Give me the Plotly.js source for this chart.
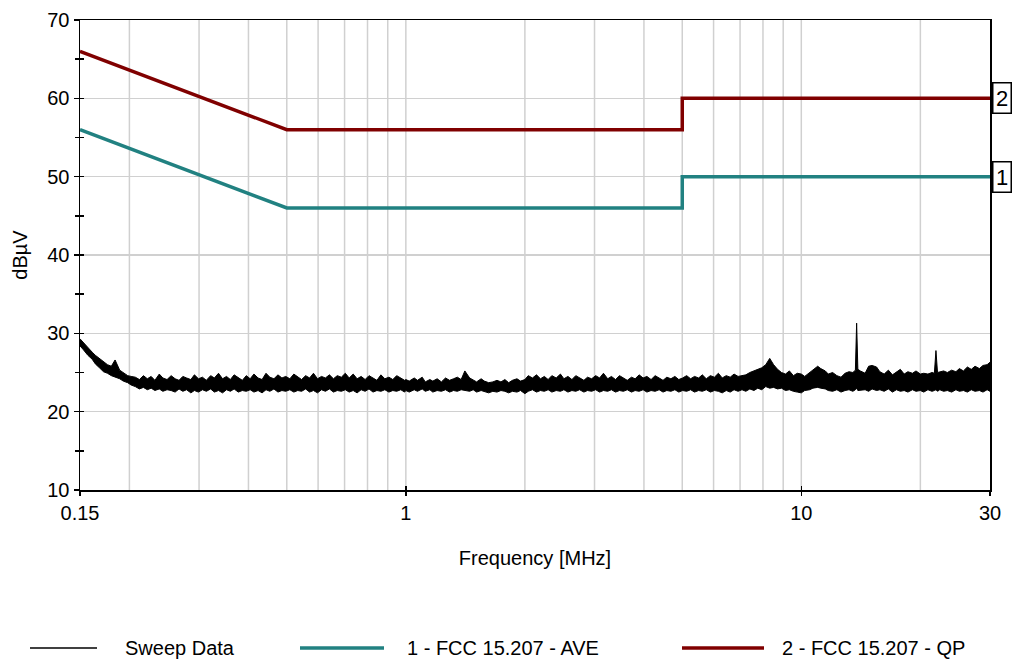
<!DOCTYPE html>
<html>
<head>
<meta charset="utf-8">
<script src="https://cdn.plot.ly/plotly-3.0.1.min.js"></script>
<style>html,body{margin:0;padding:0;background:#fff;}#chart{width:1013px;height:660px;}</style>
</head>
<body>
<div id="chart"></div>
<script>
// ---- Data ----
const limitFreq = [0.15, 0.5, 5, 5, 30];
const limitAVE = [56, 46, 46, 50, 50];
const limitQP = [66, 56, 56, 60, 60];

const sweepFreq = [
0.150,0.153,0.157,0.161,0.164,0.168,0.172,0.176,0.180,0.184,0.189,0.193,0.198,0.202,0.207,0.212,0.217,0.222,0.227,0.232,
0.238,0.243,0.249,0.255,0.261,0.267,0.273,0.279,0.286,0.292,0.299,0.306,0.313,0.321,0.328,0.336,0.344,0.352,0.360,0.368,
0.377,0.386,0.395,0.404,0.413,0.423,0.433,0.443,0.453,0.464,0.475,0.486,0.497,0.509,0.521,0.533,0.545,0.558,0.571,0.584,
0.598,0.612,0.626,0.641,0.656,0.671,0.687,0.703,0.719,0.736,0.753,0.771,0.789,0.807,0.826,0.845,0.865,0.885,0.906,0.927,
0.948,0.971,0.993,
1.00,1.02,1.05,1.07,1.10,1.12,1.15,1.17,1.20,1.23,1.26,1.29,1.32,1.35,1.38,1.41,1.45,1.48,1.51,1.55,
1.58,1.62,1.66,1.70,1.74,1.78,1.82,1.86,1.91,1.95,2.00,2.04,2.09,2.14,2.19,2.24,2.29,2.34,2.40,2.46,
2.51,2.57,2.63,2.69,2.75,2.82,2.88,2.95,3.02,3.09,3.16,3.24,3.31,3.39,3.47,3.55,3.63,3.72,3.80,3.89,
3.98,4.07,4.17,4.27,4.37,4.47,4.57,4.68,4.79,4.90,5.01,5.13,5.25,5.37,5.50,5.62,5.75,5.89,6.03,6.17,
6.31,6.46,6.61,6.76,6.92,7.08,7.24,7.41,7.59,7.76,7.94,8.13,8.32,8.51,8.71,8.91,9.12,9.33,9.55,9.77,
10.0,10.2,10.5,10.7,11.0,11.2,11.5,11.7,12.0,12.3,12.6,12.9,13.2,13.5,13.7,13.8,13.9,14.1,14.5,14.8,
15.1,15.5,15.8,16.2,16.6,17.0,17.4,17.8,18.2,18.6,19.1,19.5,20.0,20.4,20.9,21.4,21.7,21.9,22.1,22.4,
22.9,23.4,24.0,24.6,25.1,25.7,26.3,26.9,27.5,28.2,28.8,29.5,30.0
];
const sweepLow = [
28.4,27.9,27.2,26.7,26.1,25.6,25.1,24.9,24.6,24.4,24.2,23.9,23.7,23.4,23.2,22.9,23.1,22.8,23.0,22.7,
22.9,22.6,22.8,22.7,22.5,22.9,22.6,22.8,22.4,22.7,22.5,22.8,22.6,22.9,22.5,22.7,22.4,22.8,22.6,22.9,
22.5,22.7,22.6,22.8,22.5,22.7,22.4,22.8,22.6,22.9,22.5,22.7,22.6,22.8,22.5,22.7,22.6,22.9,22.5,22.7,
22.4,22.8,22.6,22.9,22.5,22.7,22.6,22.8,22.5,22.7,22.4,22.8,22.6,22.9,22.5,22.7,22.6,22.8,22.5,22.7,
22.6,22.8,22.5,
22.7,22.5,22.8,22.6,22.9,22.6,22.8,22.5,22.7,22.6,22.8,22.5,22.7,22.6,22.8,22.7,22.6,22.8,22.5,22.7,
22.6,22.4,22.6,22.5,22.7,22.6,22.4,22.6,22.5,22.7,22.3,22.6,22.8,22.5,22.7,22.6,22.8,22.5,22.7,22.6,
22.8,22.5,22.7,22.6,22.8,22.5,22.7,22.6,22.8,22.5,22.7,22.6,22.8,22.5,22.7,22.6,22.8,22.5,22.7,22.6,
22.8,22.5,22.7,22.6,22.8,22.5,22.7,22.6,22.8,22.5,22.7,22.6,22.8,22.5,22.7,22.6,22.8,22.5,22.7,22.6,
22.4,22.7,22.5,22.8,22.6,22.8,22.6,22.9,22.7,23.0,22.8,23.2,23.0,23.1,22.9,23.0,22.7,22.8,22.6,22.5,
22.4,22.7,22.8,23.0,23.1,23.0,22.9,22.7,22.6,22.8,22.5,22.7,22.8,22.6,22.8,23.0,22.7,22.7,22.8,22.6,
22.9,22.7,22.8,22.6,22.9,22.5,22.8,22.6,22.7,22.5,22.8,22.6,22.7,22.5,22.8,22.6,22.7,22.8,22.6,22.8,
22.6,22.7,22.5,22.8,22.6,22.7,22.5,22.8,22.6,22.7,22.5,22.8,22.6
];
const sweepHigh = [
29.3,28.8,28.2,27.6,27.2,26.8,26.5,26.0,25.8,26.6,25.3,25.0,24.6,24.5,24.4,24.1,24.6,24.2,24.5,24.0,
24.8,24.3,24.1,24.6,24.2,24.0,24.5,24.3,24.1,24.7,24.2,24.4,24.0,24.6,24.3,24.9,24.2,24.5,24.1,24.7,
24.3,24.0,24.6,24.2,24.8,24.3,24.1,24.9,24.4,24.2,24.7,24.3,24.5,24.2,24.8,24.4,24.1,24.6,24.3,24.9,
24.2,24.5,24.3,24.7,24.2,24.6,24.4,24.9,24.3,24.8,24.2,24.5,24.1,24.6,24.3,24.0,24.7,24.2,24.4,24.1,
24.6,24.3,24.0,
24.1,23.9,24.3,24.0,24.4,23.8,24.1,23.9,24.2,23.8,24.3,24.0,24.2,24.4,24.1,25.2,24.3,24.0,23.8,24.2,
23.9,23.7,23.8,24.0,23.8,24.1,23.7,24.0,24.2,23.9,24.1,24.6,24.3,24.7,24.2,24.5,24.1,24.6,24.3,24.8,
24.2,24.5,24.1,24.6,24.3,24.0,24.4,24.2,24.6,24.3,24.9,24.2,24.5,24.1,24.6,24.3,24.0,24.4,24.2,24.7,
24.3,24.5,24.1,24.6,24.3,24.0,24.4,24.2,24.5,24.1,24.3,24.6,24.2,24.5,24.3,24.7,24.2,24.6,24.4,24.9,
24.3,24.6,24.4,24.8,24.5,24.6,24.7,25.0,25.2,25.4,25.6,26.0,26.8,26.0,25.4,25.0,24.8,25.2,24.6,24.9,
24.8,24.5,25.0,25.4,25.8,25.5,25.2,24.8,25.0,24.6,24.4,24.9,25.1,25.0,25.3,31.3,25.4,25.2,24.9,25.8,
25.9,25.7,25.1,24.8,25.3,24.7,25.0,25.4,24.8,25.1,24.9,25.2,24.8,24.9,24.8,25.0,24.9,27.8,25.0,25.1,
25.2,25.0,25.3,25.1,25.5,25.2,25.7,25.4,25.8,25.5,25.9,26.0,26.3
];

const xTickVals = [0.15, 1, 10, 30];
const xTickText = ['0.15', '1', '10', '30'];
const gridFreqs = [0.2,0.3,0.4,0.5,0.6,0.7,0.8,0.9,1,2,3,4,5,6,7,8,9,10,20];
const legendNames = ['Sweep Data', '1 - FCC 15.207 - AVE', '2 - FCC 15.207 - QP'];
const limitLabels = ['1', '2'];

// ---- Sweep envelope as a filled band (upper edge forward, lower edge back) ----
const bandX = sweepFreq.concat(sweepFreq.slice().reverse());
const bandY = sweepHigh.concat(sweepLow.slice().reverse());

const FONT = '"Liberation Sans", Arial, sans-serif';
const COL_SWEEP = '#000000';
const COL_AVE = '#218181';
const COL_QP = '#800000';
const GRID = '#d0d0d0';

// empty helper traces so the overlay axes (inner ticks) get a subplot
function helper(xa, ya) {
  return {x: [xTickVals[1]], y: [null], xaxis: xa, yaxis: ya, type: 'scatter', mode: 'markers',
          marker: {opacity: 0}, showlegend: false, hoverinfo: 'skip'};
}

const traces = [
  helper('x3', 'y'), helper('x', 'y2'),
  {x: bandX, y: bandY, type: 'scatter', mode: 'lines', name: legendNames[0],
   fill: 'toself', fillcolor: COL_SWEEP, line: {color: COL_SWEEP, width: 1}, hoverinfo: 'skip'},
  {x: limitFreq, y: limitAVE, type: 'scatter', mode: 'lines', name: legendNames[1],
   line: {color: COL_AVE, width: 3.5}},
  {x: limitFreq, y: limitQP, type: 'scatter', mode: 'lines', name: legendNames[2],
   line: {color: COL_QP, width: 3.5}}
];

// vertical frequency gridlines (placed through the x axis scale)
const shapes = gridFreqs.map(f => ({
  type: 'line', xref: 'x', yref: 'paper', x0: f, x1: f, y0: 0, y1: 1, layer: 'below',
  line: {color: GRID, width: 1.5}
}));

// custom legend (long line samples like the reference)
function px2x(px) { return (px - 80) / 910; }
const legY = (490 - 648) / 470;
const legItems = [
  {x0: 30, x1: 97, tx: 123, color: COL_SWEEP, w: 1.5},
  {x0: 300, x1: 384, tx: 405, color: COL_AVE, w: 3.5},
  {x0: 682, x1: 764, tx: 780, color: COL_QP, w: 3.5}
];
legItems.forEach(it => shapes.push({
  type: 'line', xref: 'paper', yref: 'paper', x0: px2x(it.x0), x1: px2x(it.x1), y0: legY, y1: legY,
  line: {color: it.color, width: it.w}
}));
const annotations = legItems.map((it, i) => ({
  xref: 'paper', yref: 'paper', x: px2x(it.tx), y: legY, xanchor: 'left', yanchor: 'middle',
  text: legendNames[i], showarrow: false, font: {family: FONT, size: 20, color: '#000'}
}));
// limit line labels at right edge
[[limitLabels[0], limitAVE[limitAVE.length - 1]], [limitLabels[1], limitQP[limitQP.length - 1]]].forEach(([t, v]) => {
  annotations.push({xref: 'paper', yref: 'y', x: 1, y: v, xanchor: 'left', yanchor: 'middle', xshift: 2,
    text: t, showarrow: false, bordercolor: '#000', borderwidth: 1.5, borderpad: 1, bgcolor: '#fff',
    width: 15, height: 27, align: 'center', valign: 'middle',
    font: {family: FONT, size: 22, color: '#000'}});
  shapes.push({type: 'line', xref: 'paper', yref: 'y', x0: 1, x1: 1.004, y0: v, y1: v, line: {color: '#000', width: 1.5}});
});

const xRange = [Math.log10(0.15), Math.log10(30)];
const layout = {
  width: 1013, height: 660,
  margin: {l: 80, r: 23, t: 20, b: 170},
  paper_bgcolor: '#fff', plot_bgcolor: '#fff',
  showlegend: false,
  font: {family: FONT, size: 20, color: '#000'},
  xaxis: {
    type: 'log', range: xRange, autorange: false,
    tickmode: 'array', tickvals: xTickVals, ticktext: xTickText,
    ticks: 'outside', ticklen: 4, tickcolor: '#000', tickwidth: 1.5,
    showgrid: false,
    showline: true, linecolor: '#000', linewidth: 1.5, mirror: true, zeroline: false,
    tickfont: {family: FONT, size: 20, color: '#000'},
    title: {text: 'Frequency [MHz]', font: {family: FONT, size: 20, color: '#000'}, standoff: 28}
  },
  xaxis3: {
    type: 'log', range: xRange, autorange: false, overlaying: 'x', anchor: 'y', side: 'bottom',
    tickmode: 'array', tickvals: [1, 10], showticklabels: false, ticks: 'inside', ticklen: 4,
    tickcolor: '#000', tickwidth: 1.5, showgrid: false, showline: false, zeroline: false
  },
  yaxis: {
    range: [10, 70], autorange: false, tickmode: 'linear', tick0: 10, dtick: 10,
    ticks: 'outside', ticklen: 5, tickcolor: '#000', tickwidth: 1.5,
    minor: {dtick: 5, ticks: 'outside', ticklen: 4, tickcolor: '#000', tickwidth: 1.5, showgrid: false},
    showgrid: true, gridcolor: GRID, gridwidth: 1.5,
    showline: true, linecolor: '#000', linewidth: 1.5, mirror: true, zeroline: false,
    tickfont: {family: FONT, size: 20, color: '#000'},
    title: {text: 'dBµV', font: {family: FONT, size: 20, color: '#000'}, standoff: 14}
  },
  yaxis2: {
    range: [10, 70], autorange: false, overlaying: 'y', anchor: 'x', side: 'left',
    tickmode: 'linear', tick0: 10, dtick: 5, showticklabels: false,
    ticks: 'inside', ticklen: 4, tickcolor: '#000', tickwidth: 1.5,
    showgrid: false, showline: false, zeroline: false
  },
  shapes: shapes,
  annotations: annotations
};

Plotly.newPlot('chart', traces, layout, {staticPlot: true, displayModeBar: false});
</script>
</body>
</html>
